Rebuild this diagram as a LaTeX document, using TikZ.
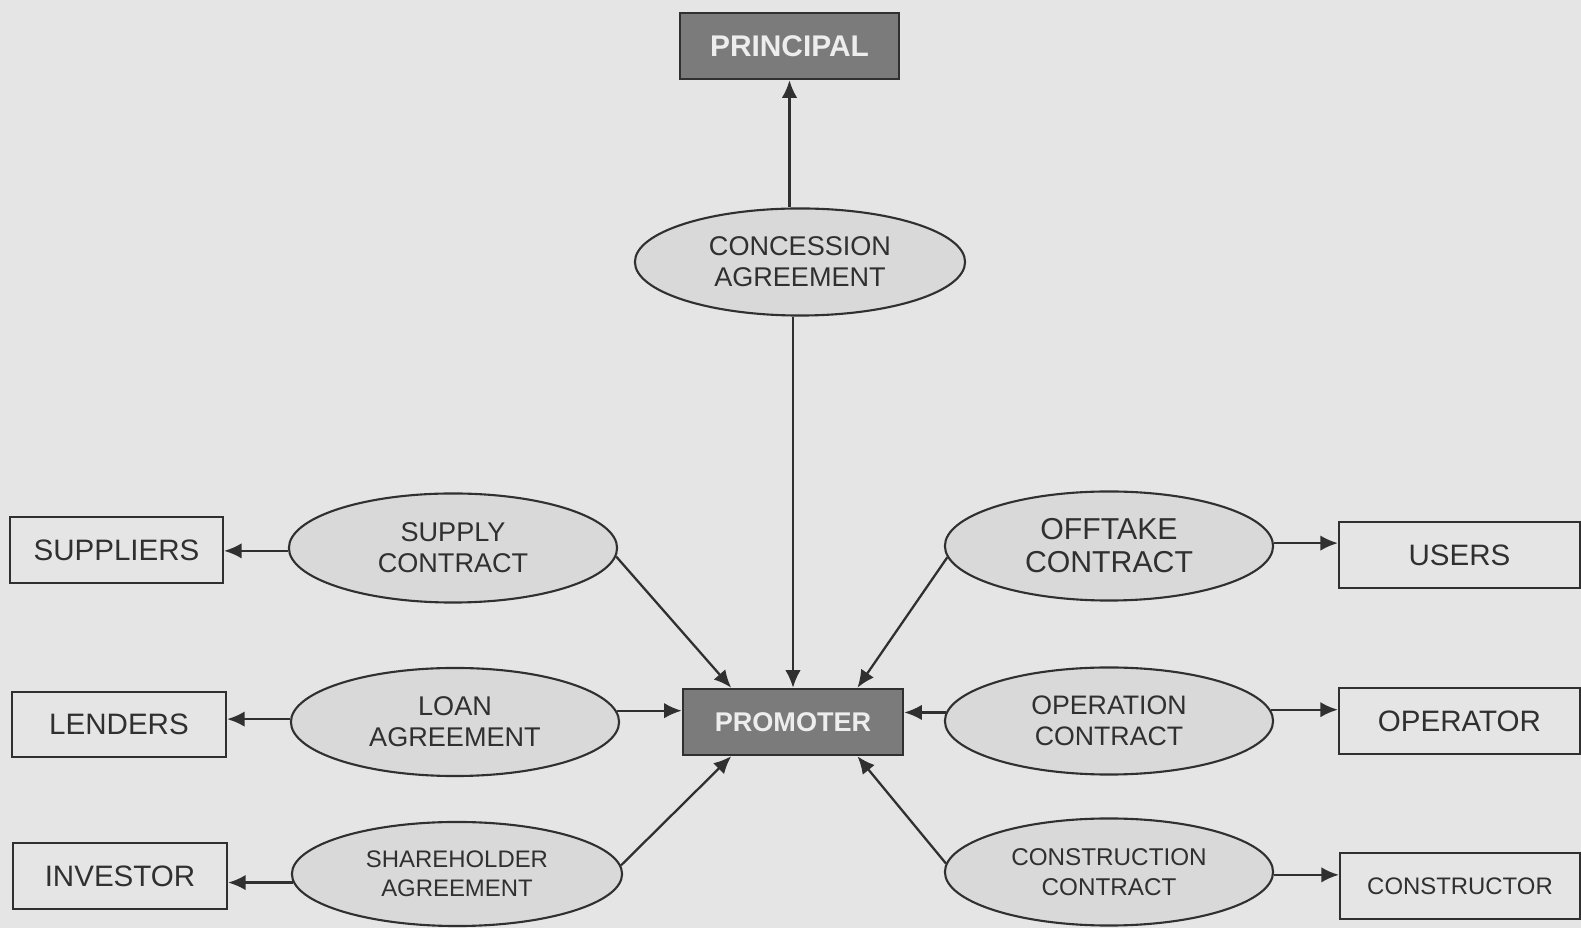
\documentclass[tikz,border=0pt]{standalone}
\usepackage{fontspec}
\setmainfont{Liberation Sans}
\usetikzlibrary{shapes.geometric,arrows.meta}
\definecolor{paper}{HTML}{E5E5E5}
\definecolor{oval}{HTML}{D9D9D9}
\definecolor{hubfill}{HTML}{7B7B7B}
\definecolor{ink}{HTML}{303030}
\tikzset{
  party/.style={draw=ink, line width=0.6pt, minimum width=2.14cm, minimum height=0.66cm,
    inner sep=0pt, text=ink, font=\fontsize{8.4}{10}\selectfont},
  hub/.style={draw=ink, fill=hubfill, line width=0.7pt, minimum width=2.19cm, minimum height=0.66cm,
    inner sep=0pt, text=white!93!black, font=\fontsize{8.5}{10}\selectfont\bfseries},
  contract/.style={ellipse, draw=ink, fill=oval, line width=0.6pt, minimum width=3.28cm,
    minimum height=1.07cm, inner sep=0pt, align=center, text=ink,
    font=\fontsize{7.7}{8.8}\selectfont},
  link/.style={draw=ink, line width=0.65pt, -{Latex[length=5pt,width=4.4pt]}}
}
\begin{document}
\begin{tikzpicture}[x=0.01cm, y=-0.01cm]
      \fill[paper] (0,0) rectangle (1581,928);
      \useasboundingbox (0,0) rectangle (1581,928);
      % main parties
      \draw
        (789.5,46) node[hub] (principal){PRINCIPAL}
        (793,722) node[hub, minimum width=2.2cm, font=\fontsize{7.7}{9}\selectfont\bfseries] (promoter){PROMOTER};
      % agreements
      \draw
        (800,262) node[contract, minimum width=3.3cm] (concession){CONCESSION\\AGREEMENT}
        (453,548) node[contract, minimum height=1.09cm] (supply){SUPPLY\\CONTRACT}
        (455,722) node[contract, minimum height=1.08cm] (loan){LOAN\\AGREEMENT}
        (457,874) node[contract, minimum width=3.3cm, minimum height=1.04cm,
          font=\fontsize{6.8}{8.4}\selectfont] (shareholder){SHAREHOLDER\\AGREEMENT}
        (1109,546) node[contract, minimum height=1.09cm,
          font=\fontsize{8.6}{9.4}\selectfont] (offtake){OFFTAKE\\CONTRACT}
        (1109,721) node[contract, font=\fontsize{7.6}{8.8}\selectfont] (operation){OPERATION\\CONTRACT}
        (1109,872) node[contract, font=\fontsize{6.9}{8.4}\selectfont] (construction){CONSTRUCTION\\CONTRACT};
      % other parties
      \draw
        (116.5,550) node[party, minimum width=2.13cm] (suppliers){SUPPLIERS}
        (119,724.5) node[party, minimum height=0.65cm] (lenders){LENDERS}
        (120,876) node[party] (investor){INVESTOR}
        (1459.5,555) node[party, minimum width=2.41cm] (users){USERS}
        (1459.5,721) node[party, minimum width=2.41cm] (operator){OPERATOR}
        (1460,886) node[party, minimum width=2.4cm, font=\fontsize{6.8}{8}\selectfont] (constructor){CONSTRUCTOR};
      \begin{scope}[link]
        \draw (principal.south |- concession.north) to (principal.south);
        \draw (promoter.north |- concession.south) to (promoter.north);
        \draw (supply.-3) to (promoter.151);
        \draw (offtake.184) to (promoter.28);
        \draw (shareholder.3) to (promoter.-151);
        \draw (construction.177) to (promoter.-28);
        \draw (loan.4) to (loan.4 -| promoter.west);
        \draw (operation.177) to (operation.177 -| promoter.east);
        \draw (supply.181) to (supply.181 -| suppliers.east);
        \draw (loan.179) to (loan.179 -| lenders.east);
        \draw (shareholder.183) to (shareholder.183 -| investor.east);
        \draw (offtake.1) to (offtake.1 -| users.west);
        \draw (operation.4) to (operation.4 -| operator.west);
        \draw (construction.-1) to (construction.-1 -| constructor.west);
      \end{scope}
    \end{tikzpicture}
\end{document}
